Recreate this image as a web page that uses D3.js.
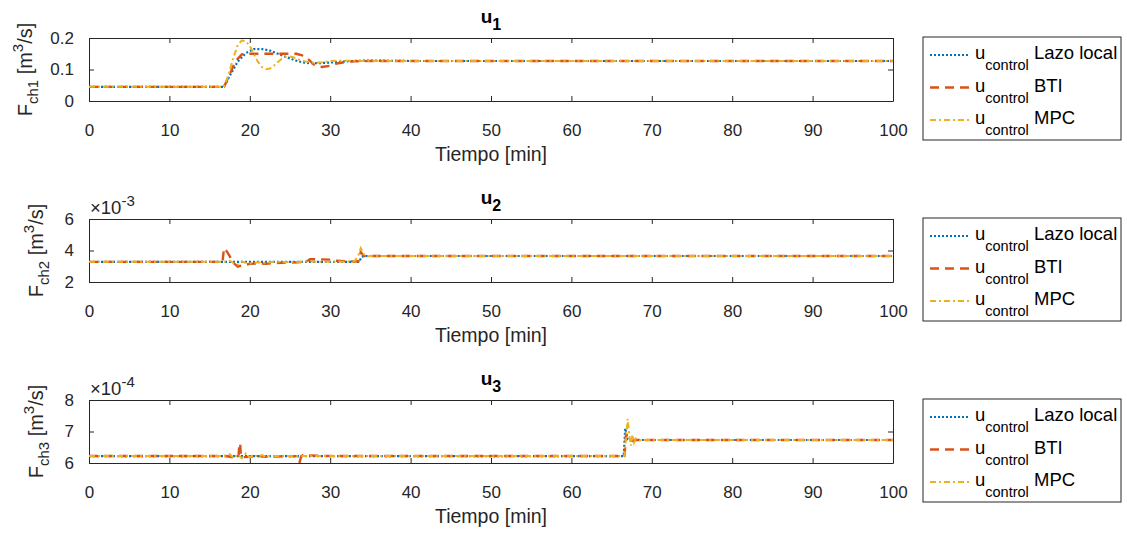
<!DOCTYPE html>
<html>
<head>
<meta charset="utf-8">
<script src="https://cdn.jsdelivr.net/npm/d3@7"></script>
<style>
  body { margin: 0; background: #fff; }
  svg { display: block; font-family: "Liberation Sans", Arial, Helvetica, sans-serif; }
  .axis path, .axis line { stroke: #262626; stroke-width: 1; }
  .axis text { fill: #262626; font-size: 17px; font-family: "Liberation Sans", Arial, sans-serif; }
</style>
</head>
<body>
<svg width="1127" height="538"></svg>
<script>
// 時間軸 (min)
const xTicks = [0, 10, 20, 30, 40, 50, 60, 70, 80, 90, 100];

// u1 : F_ch1 [m3/s]
const u1Ticks = [0, 0.1, 0.2];
const u1Lazo = [[0,0.045],[16.8,0.045],[17.5,0.08],[18.5,0.125],[19.5,0.152],[20.5,0.165],[21.5,0.165],
  [22.5,0.16],[23.5,0.15],[24.5,0.14],[25.5,0.13],[26.5,0.123],[27.5,0.12],[28.5,0.12],[30,0.122],
  [32,0.126],[34,0.128],[36,0.128],[40,0.127],[100,0.127]];
const u1BTI = [[0,0.045],[16.8,0.045],[17.5,0.085],[18.2,0.125],[19,0.148],[20,0.15],[22,0.15],[24,0.15],
  [25.8,0.15],[26.5,0.145],[27.3,0.132],[28,0.115],[29,0.108],[30,0.112],[31,0.12],[32,0.124],[33,0.126],
  [35,0.127],[100,0.127]];
const u1MPC = [[0,0.045],[16.8,0.045],[17.3,0.08],[18,0.14],[18.5,0.178],[19,0.192],[19.5,0.19],[20,0.175],
  [20.5,0.15],[21,0.125],[21.5,0.108],[22,0.101],[22.5,0.103],[23,0.112],[23.5,0.124],[24,0.134],[24.5,0.14],
  [25,0.141],[25.5,0.138],[26,0.132],[27,0.125],[28,0.121],[29,0.123],[30,0.127],[32,0.128],[35,0.127],[100,0.127]];

// u2 : F_ch2 [m3/s] x10^-3
const u2Ticks = [2, 4, 6];
const u2Lazo = [[0,3.28],[33.6,3.28],[33.9,3.6],[34.2,3.65],[100,3.65]];
const u2BTI = [[0,3.28],[16.6,3.28],[16.8,4.15],[17.2,3.9],[17.6,3.55],[18,3.2],[18.5,2.97],[19,3.05],
  [20,3.15],[21,3.18],[22,3.15],[23,3.2],[24,3.22],[25,3.24],[26,3.25],[27,3.3],[27.5,3.45],[30,3.42],
  [30.3,3.36],[32,3.32],[33.5,3.3],[33.8,3.9],[34.2,3.65],[100,3.65]];
const u2MPC = [[0,3.28],[17,3.28],[17.5,3.35],[18,3.2],[18.5,3.1],[19,3.3],[19.5,3.22],[20,3.18],[21,3.25],
  [22,3.22],[23,3.28],[25,3.26],[27,3.3],[30,3.28],[33,3.3],[33.5,3.7],[33.8,4.15],[34.1,3.8],[34.5,3.62],
  [35,3.65],[100,3.65]];

// u3 : F_ch3 [m3/s] x10^-4
const u3Ticks = [6, 7, 8];
const u3Lazo = [[0,6.22],[66.5,6.22],[66.7,7.1],[67,6.75],[67.4,6.72],[68,6.73],[100,6.73]];
const u3BTI = [[0,6.22],[17,6.22],[18,6.18],[18.6,6.2],[18.7,6.62],[18.8,6.62],[18.9,6.2],[19,6.18],[20,6.2],
  [21,6.22],[22,6.2],[26,6.22],[26.2,6.03],[26.4,6.22],[26.6,6.25],[30,6.22],[66.6,6.22],[66.8,6.9],
  [67.2,6.72],[67.6,6.7],[68,6.73],[100,6.73]];
const u3MPC = [[0,6.22],[17,6.22],[17.5,6.28],[18,6.15],[18.5,6.28],[19,6.15],[19.5,6.3],[20,6.17],[20.5,6.27],
  [21,6.2],[21.5,6.25],[22,6.2],[22.5,6.23],[23,6.22],[66.6,6.22],[66.8,6.8],[67,7.4],[67.2,6.9],[67.4,6.55],
  [67.6,6.9],[67.8,6.65],[68,6.78],[68.5,6.72],[69,6.73],[100,6.73]];

const legendNames = ["Lazo local", "BTI", "MPC"];

const colores = ["#0072BD", "#D95319", "#EDB120"];
const guiones = ["2,2", "9,6", "6,3,2,3"];
const anchos = [2.2, 2.4, 2];

const paneles = [
  { n: "1", top: 38, domain: [0, 0.2], ticks: u1Ticks, fmt: d3.format(".1~f"), exp: null, labelX: 32, series: [u1Lazo, u1BTI, u1MPC] },
  { n: "2", top: 219, domain: [2, 6], ticks: u2Ticks, fmt: d3.format("d"), exp: "-3", labelX: 43, series: [u2Lazo, u2BTI, u2MPC] },
  { n: "3", top: 400, domain: [6, 8], ticks: u3Ticks, fmt: d3.format("d"), exp: "-4", labelX: 43, series: [u3Lazo, u3BTI, u3MPC] }
];

const svg = d3.select("svg");
const x0 = 89, x1 = 893, alto = 63;

const x = d3.scaleLinear().domain([0, 100]).range([x0, x1]);

paneles.forEach((p, i) => {
  const bottom = p.top + alto;
  const y = d3.scaleLinear().domain(p.domain).range([bottom, p.top]);
  const g = svg.append("g");

  // clip
  svg.append("clipPath").attr("id", "clip" + i)
    .append("rect").attr("x", x0).attr("y", p.top).attr("width", x1 - x0).attr("height", alto);

  // ejes
  g.append("g").attr("class", "axis").attr("transform", `translate(0,${bottom})`)
    .call(d3.axisBottom(x).tickValues(xTicks).tickSizeInner(-5).tickSizeOuter(0).tickPadding(23));
  g.append("g").attr("class", "axis").attr("transform", `translate(0,${p.top})`)
    .call(d3.axisTop(x).tickValues(xTicks).tickSizeInner(-5).tickSizeOuter(0).tickFormat(""));
  g.append("g").attr("class", "axis").attr("transform", `translate(${x0},0)`)
    .call(d3.axisLeft(y).tickValues(p.ticks).tickSizeInner(-5).tickSizeOuter(0).tickPadding(15).tickFormat(p.fmt));
  g.append("g").attr("class", "axis").attr("transform", `translate(${x1},0)`)
    .call(d3.axisRight(y).tickValues(p.ticks).tickSizeInner(-5).tickSizeOuter(0).tickFormat(""));
  g.selectAll(".axis .domain").attr("stroke", "#262626");

  // lineas
  const line = d3.line().x(d => x(d[0])).y(d => y(d[1]));
  p.series.forEach((s, k) => {
    g.append("path").datum(s)
      .attr("clip-path", `url(#clip${i})`)
      .attr("fill", "none")
      .attr("stroke", colores[k])
      .attr("stroke-width", anchos[k])
      .attr("stroke-dasharray", guiones[k])
      .attr("d", line);
  });

  // titulo
  const t = g.append("text").attr("x", (x0 + x1) / 2).attr("y", p.top - 15)
    .attr("text-anchor", "middle").attr("fill", "#000")
    .style("font-weight", "bold").style("font-size", "19px");
  t.append("tspan").text("u");
  t.append("tspan").attr("dy", 7).style("font-size", "16px").text(p.n);

  // etiqueta x
  g.append("text").attr("x", (x0 + x1) / 2).attr("y", bottom + 60)
    .attr("text-anchor", "middle").attr("fill", "#262626").style("font-size", "19.5px")
    .text("Tiempo [min]");

  // etiqueta y
  const yl = g.append("text")
    .attr("transform", `translate(${p.labelX},${p.top + alto / 2}) rotate(-90)`)
    .attr("text-anchor", "middle").attr("fill", "#262626").style("font-size", "20px");
  yl.append("tspan").text("F");
  yl.append("tspan").attr("dy", 6).style("font-size", "15px").text("ch" + p.n);
  yl.append("tspan").attr("dy", -6).text(" [m");
  yl.append("tspan").attr("dy", -9).style("font-size", "15px").text("3");
  yl.append("tspan").attr("dy", 9).text("/s]");

  // exponente
  if (p.exp) {
    const ex = g.append("text").attr("x", x0 + 1).attr("y", p.top - 5)
      .attr("fill", "#262626").style("font-size", "18.5px");
    ex.append("tspan").text("\u00d710");
    ex.append("tspan").attr("dy", -8).style("font-size", "15px").text(p.exp);
  }

  // leyenda
  const lg = g.append("g").attr("transform", `translate(923,${p.top - 1})`);
  lg.append("rect").attr("width", 198).attr("height", 103)
    .attr("fill", "#fff").attr("stroke", "#262626").attr("stroke-width", 1);
  legendNames.forEach((name, k) => {
    const yy = 18 + k * 32.5;
    lg.append("line").attr("x1", 7).attr("x2", 47).attr("y1", yy).attr("y2", yy)
      .attr("stroke", colores[k]).attr("stroke-width", anchos[k]).attr("stroke-dasharray", guiones[k]);
    const tx = lg.append("text").attr("x", 52).attr("y", yy + 4)
      .attr("fill", "#000").style("font-size", "18.5px");
    tx.append("tspan").text("u");
    tx.append("tspan").attr("dy", 11).style("font-size", "14.5px").text("control");
    tx.append("tspan").attr("dy", -11).text(" " + name);
  });
});
</script>
</body>
</html>
